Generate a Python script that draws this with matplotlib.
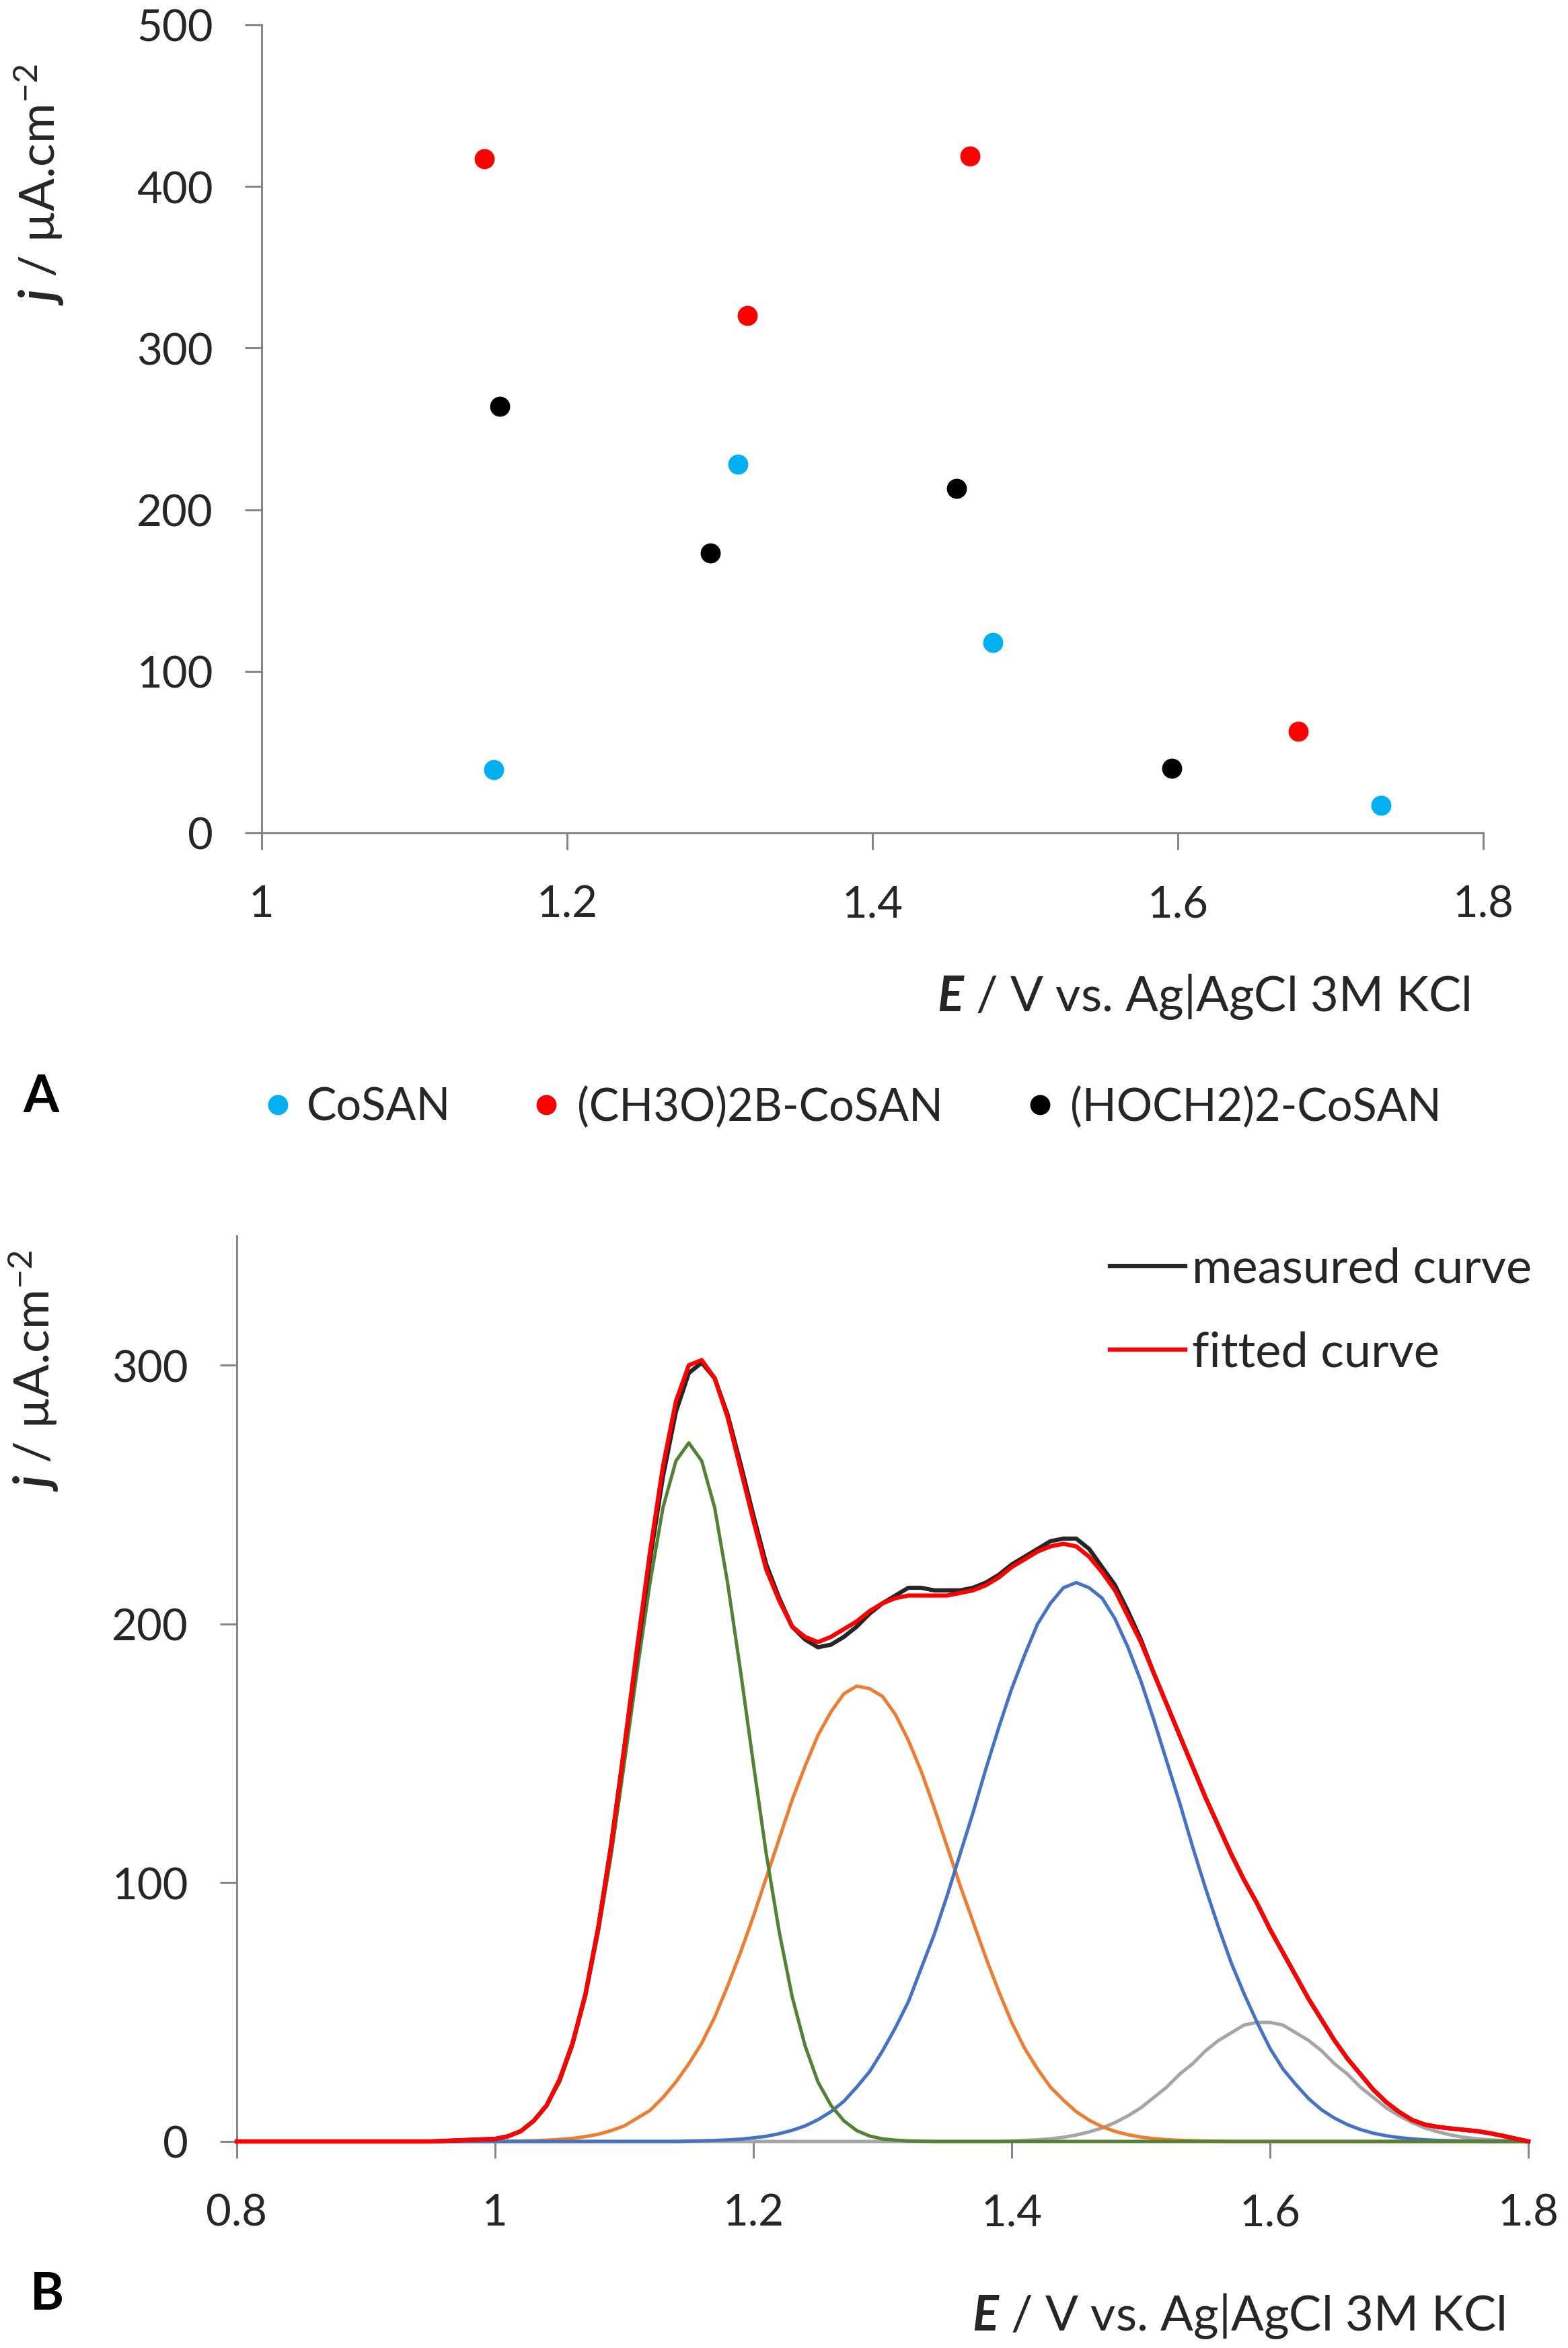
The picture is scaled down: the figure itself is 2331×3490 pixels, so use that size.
import numpy as np
import matplotlib
matplotlib.use('Agg')
import matplotlib.pyplot as plt
from matplotlib.lines import Line2D
from matplotlib.ticker import FuncFormatter

plt.rcParams['font.family'] = ['Lato', 'DejaVu Sans']
plt.rcParams['mathtext.fontset'] = 'custom'
plt.rcParams['mathtext.rm'] = 'Lato'
plt.rcParams['mathtext.it'] = 'Lato:italic'
plt.rcParams['mathtext.bf'] = 'Lato:bold'
plt.rcParams['mathtext.bfit'] = 'Lato:bold:italic'

# --- panel A: peak current vs peak potential ---
cosan_E = [1.152, 1.312, 1.479, 1.733]
cosan_j = [39, 228, 118, 17]
ch3o_E = [1.146, 1.318, 1.464, 1.679]
ch3o_j = [417, 320, 419, 63]
hoch2_E = [1.156, 1.294, 1.455, 1.596]
hoch2_j = [264, 173, 213, 40]

# --- panel B: voltammogram + fitted components ---
# potentials: 0.80, 0.85, 0.90, 0.95, then 1.00 ... 1.80 every 0.01 V
E = np.round(np.concatenate([[0.80, 0.85, 0.90, 0.95], np.arange(1.00, 1.805, 0.01)]), 2)

measured = [0, 0, 0, 0,
            1, 2, 4, 8, 14, 24, 38, 57, 83, 115,
            152, 189, 225, 257, 282, 297, 301, 295, 281, 262,
            242, 223, 210, 199, 194, 191, 192, 195, 199, 204,
            208, 211, 214, 214, 213, 213, 213, 214, 216, 219,
            223, 226, 229, 232, 233, 233, 229, 222, 215, 205,
            194, 181, 169, 157, 145, 133, 122, 111, 101, 92,
            82, 73, 64, 55, 47, 39, 32, 26, 20, 15.2,
            11.4, 8.3, 6.5, 5.6, 5.0, 4.5, 4.0, 3.2, 2.2, 1.1, 0]
fitted = [0, 0, 0, 0,
          1, 2, 4, 8, 14, 24, 38, 57, 83, 115,
          152, 191, 228, 261, 286, 300, 302, 295, 280, 260,
          240, 221, 209, 199, 195, 193, 195, 198, 201, 205,
          208, 210, 211, 211, 211, 211, 212, 213, 215, 218,
          222, 225, 228, 230, 231, 230, 226, 220, 213, 203,
          193, 181, 169, 157, 145, 133, 122, 111, 101, 92,
          82, 73, 64, 55, 47, 39, 32, 26, 20, 15.2,
          11.4, 8.3, 6.5, 5.6, 5.0, 4.5, 4.0, 3.2, 2.2, 1.1, 0]
green = [0, 0, 0, 0,
         1, 2, 4, 8, 14, 23, 37, 56, 81, 111,
         146, 182, 216, 245, 263, 270, 263, 245, 216, 182,
         146, 111, 81, 56, 37, 23, 14, 8, 4.2, 2.1,
         1.0, 0.5, 0.2, 0.1, 0, 0, 0, 0, 0, 0,
         0, 0, 0, 0, 0, 0, 0, 0, 0, 0,
         0, 0, 0, 0, 0, 0, 0, 0, 0, 0,
         0, 0, 0, 0, 0, 0, 0, 0, 0, 0,
         0, 0, 0, 0, 0, 0, 0, 0, 0, 0, 0]
orange = [0, 0, 0, 0,
          0.1, 0.1, 0.2, 0.3, 0.5, 0.8, 1.2, 1.9, 2.8, 4.2,
          6, 9, 12, 17, 23, 30, 38, 48, 60, 73,
          87, 102, 117, 132, 145, 157, 166, 173, 176, 175,
          172, 165, 155, 143, 129, 114, 99, 85, 71, 58,
          46, 36, 28, 21, 16, 11.5, 8.2, 5.7, 3.9, 2.6,
          1.7, 1.1, 0.7, 0.45, 0.28, 0.17, 0.1, 0, 0, 0,
          0, 0, 0, 0, 0, 0, 0, 0, 0, 0,
          0, 0, 0, 0, 0, 0, 0, 0, 0, 0, 0]
blue = [0, 0, 0, 0,
        0, 0, 0, 0, 0, 0, 0, 0, 0, 0,
        0, 0, 0, 0, 0, 0.15, 0.24, 0.38, 0.6, 0.9,
        1.4, 2.0, 3.0, 4.3, 6.0, 8.4, 11.5, 15.5, 21, 27,
        35, 44, 54, 67, 80, 95, 111, 127, 144, 160,
        175, 188, 200, 208, 214, 216, 214, 210, 202, 191,
        178, 163, 147, 131, 114, 98, 83, 69, 57, 46,
        36, 28, 22, 16.5, 12.2, 9.0, 6.5, 4.6, 3.2, 2.2,
        1.5, 1.0, 0.65, 0.4, 0.3, 0.2, 0.1, 0, 0, 0, 0]
gray = [0, 0, 0, 0,
        0, 0, 0, 0, 0, 0, 0, 0, 0, 0,
        0, 0, 0, 0, 0, 0, 0, 0, 0, 0,
        0, 0, 0, 0, 0, 0, 0, 0, 0, 0,
        0, 0, 0, 0, 0, 0, 0, 0, 0, 0,
        0.2, 0.4, 0.65, 1.05, 1.6, 2.5, 3.7, 5.2, 7.3, 9.9,
        13, 17, 21, 26, 30, 35, 39, 42, 45, 46,
        46, 45, 42, 39, 35, 30, 26, 21, 17, 13,
        9.9, 7.3, 5.2, 3.7, 2.5, 1.6, 1.05, 0.65, 0.38, 0.2, 0.1]

W, H = 2331, 3491
fig = plt.figure(figsize=(W / 100, H / 100), dpi=100)


def fx(px):
    return px / W


def fy(py):
    return 1 - py / H


ax1 = fig.add_axes([fx(389), fy(1239), (2205 - 389) / W, (1239 - 38) / H])
ax2 = fig.add_axes([fx(352), fy(3184), (2272 - 352) / W, (3184 - 1838) / H])

axis_col = '#868686'
txt_col = '#262626'
for ax in (ax1, ax2):
    for s in ('top', 'right'):
        ax.spines[s].set_visible(False)
    for s in ('left', 'bottom'):
        ax.spines[s].set_color(axis_col)
        ax.spines[s].set_linewidth(2.2)
    ax.tick_params(direction='out', length=18, width=2.2, color=axis_col,
                   labelsize=47, labelcolor=txt_col)
    ax.tick_params(axis='y', pad=34)
    ax.tick_params(axis='x', pad=37)
    ax.xaxis.set_major_formatter(FuncFormatter(lambda v, p: f'{v:g}'))

# panel A
ax1.plot(cosan_E, cosan_j, 'o', ms=21.5, color='#00B0F0', mec='none', clip_on=False)
ax1.plot(ch3o_E, ch3o_j, 'o', ms=21.5, color='#FF0000', mec='none', clip_on=False)
ax1.plot(hoch2_E, hoch2_j, 'o', ms=21.5, color='#000000', mec='none', clip_on=False)
ax1.set_xlim(1, 1.8)
ax1.set_ylim(0, 500)
ax1.set_xticks([1, 1.2, 1.4, 1.6, 1.8])
ax1.set_yticks([0, 100, 200, 300, 400, 500])

# panel B
comp_kw = dict(lw=3.6, clip_on=False, zorder=3)
ax2.plot(E, gray, color='#A5A5A5', **comp_kw)
ax2.plot(E, orange, color='#ED7D31', **comp_kw)
ax2.plot(E, blue, color='#4472C4', **comp_kw)
ax2.plot(E, green, color='#548235', **comp_kw)
ax2.plot(E, measured, color='#262626', lw=4.5, clip_on=False, zorder=3)
ax2.plot(E, fitted, color='#FF0000', lw=4.5, clip_on=False, zorder=3)
ax2.set_xlim(0.8, 1.8)
ax2.set_ylim(0, 350)
ax2.set_xticks([0.8, 1, 1.2, 1.4, 1.6, 1.8])
ax2.set_yticks([0, 100, 200, 300])

ylab = r'$\mathbfit{j}$ / µA.cm$^{-2}$'
xlab = r'$\mathbfit{E}$ / V vs. Ag|AgCl 3M KCl'
fig.text(fx(58), fy(274), ylab, rotation=90, ha='center', va='center', fontsize=52, color=txt_col)
fig.text(fx(50), fy(2037), ylab, rotation=90, ha='center', va='center', fontsize=52, color=txt_col)
fig.text(fx(2185), fy(1503), xlab, ha='right', va='baseline', fontsize=52, color=txt_col)
fig.text(fx(2237), fy(3464), xlab, ha='right', va='baseline', fontsize=52, color=txt_col)
fig.text(fx(61), fy(1653), 'A', ha='center', va='baseline', fontsize=55, weight='bold', color='black')
fig.text(fx(70), fy(3433), 'B', ha='center', va='baseline', fontsize=55, weight='bold', color='black')

# legend of panel A
for mx, tx, col, lab in [(413, 456, '#00B0F0', 'CoSAN'),
                         (812, 858, '#FF0000', '(CH3O)2B-CoSAN'),
                         (1546, 1591, '#000000', '(HOCH2)2-CoSAN')]:
    fig.add_artist(Line2D([fx(mx)], [fy(1643)], marker='o', ms=21.5, color=col, mec='none'))
    fig.text(fx(tx), fy(1666), lab, ha='left', va='baseline', fontsize=48, color=txt_col)

# legend of panel B
for yy, col, lab in [(1883, '#262626', 'measured curve'), (2007, '#FF0000', 'fitted curve')]:
    fig.add_artist(Line2D([fx(1650), fx(1762)], [fy(yy), fy(yy)], color=col, lw=4.5))
    fig.text(fx(1772), fy(yy + 24), lab, ha='left', va='baseline', fontsize=52, color=txt_col)

fig.savefig('out.png', dpi=100)
